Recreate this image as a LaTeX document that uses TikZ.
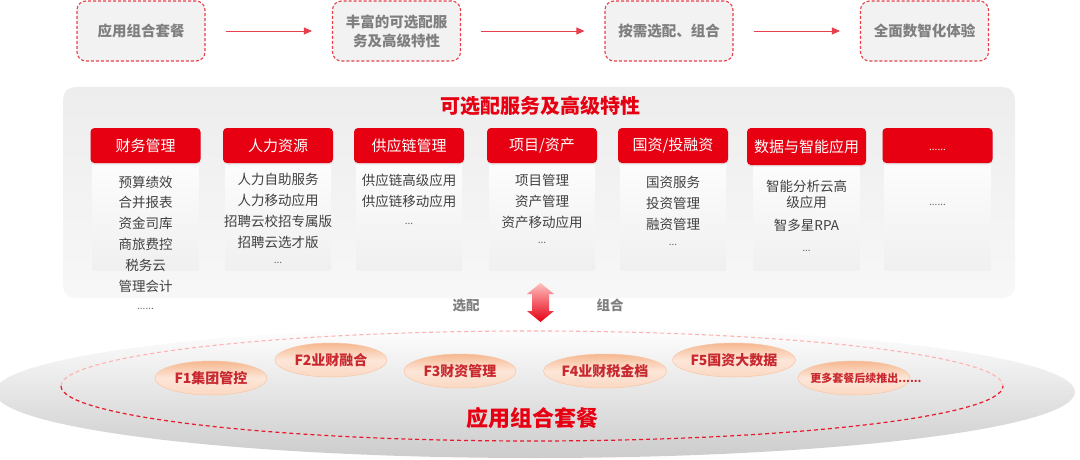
\documentclass[tikz,border=0pt]{standalone}
\usepackage{fontspec}
\setmainfont{Noto Sans CJK SC}
\usetikzlibrary{arrows.meta,shapes.geometric,shadows}
\definecolor{hred}{HTML}{E60012}
\definecolor{dred}{HTML}{E8404A}
\definecolor{tgray}{HTML}{7F7F7F}
\definecolor{igray}{HTML}{404040}
\definecolor{pred}{HTML}{C8282E}
\definecolor{peach}{HTML}{F6B890}
\definecolor{peachl}{HTML}{FDE6D8}
\tikzset{
  topbox/.style={draw=dred, line width=1.1pt, dash pattern=on 3pt off 2pt, fill=gray!10,
    rounded corners=9pt, minimum width=128pt, minimum height=60pt, inner sep=0pt,
    text=tgray, font=\bfseries\fontsize{14.5}{19}\selectfont, align=center},
  flow/.style={draw=dred, line width=0.9pt, -{Triangle[length=8pt,width=7pt]},
    shorten <=20pt, shorten >=20pt},
  header/.style={fill=hred, rounded corners=4pt, minimum width=110pt, minimum height=35pt,
    inner sep=0pt, text=white, font=\fontsize{15}{18}\selectfont,
    drop shadow={opacity=0.18, shadow xshift=0pt, shadow yshift=-1.5pt}},
  card/.style={top color=gray!2, bottom color=gray!12, minimum width=106pt, minimum height=107pt,
    inner sep=0pt, drop shadow={opacity=0.06, shadow xshift=0pt, shadow yshift=-1pt}},
  item/.style={text=igray, font=\fontsize{13.5}{16}\selectfont, inner sep=0pt},
  dots/.style={text=igray!80, font=\fontsize{10}{12}\selectfont, inner sep=0pt},
  pill/.style={ellipse, minimum width=112pt, minimum height=34pt, inner sep=0pt,
    draw=peach!80, line width=0.5pt, top color=peach, bottom color=peach!55!white,
    middle color=peachl, text=pred, font=\bfseries\fontsize{14}{16}\selectfont},
  gtext/.style={text=tgray, font=\bfseries\fontsize{13.5}{16}\selectfont, inner sep=0pt},
}
\begin{document}
\begin{tikzpicture}[x=1pt,y=-1pt]
\useasboundingbox (0,0) rectangle (1080,460);
% top flow
\node[topbox] (b1) at (141,31) {应用组合套餐};
\node[topbox] (b2) at (396.5,31) {丰富的可选配服\\务及高级特性};
\node[topbox] (b3) at (669,31) {按需选配、组合};
\node[topbox] (b4) at (924.5,31) {全面数智化体验};
\draw[flow] (b1) -- (b2);
\draw[flow] (b2) -- (b3);
\draw[flow] (b3) -- (b4);
% panel
\node[top color=gray!14, bottom color=gray!6, rounded corners=12pt, minimum width=952pt,
  minimum height=211pt, inner sep=0pt] (panel) at (539,192.5) {};
\node[text=hred, font=\bfseries\fontsize{20}{24}\selectfont, inner sep=0pt] (ptitle) at (540,106) {可选配服务及高级特性};
% cards
\foreach \x [count=\i] in {145.5,278,409,542,673,806.5,937.5}
  \node[card] (card\i) at (\x,216.5) {};
% headers
\node[header] (h1) at (145.5,145.5) {财务管理};
\node[header] (h2) at (278,145.5) {人力资源};
\node[header] (h3) at (409,145.5) {供应链管理};
\node[header] (h4) at (542,145.5) {项目/资产};
\node[header] (h5) at (673,145.5) {国资/投融资};
\node[header, minimum width=119pt, minimum height=37pt] (h6) at (806.5,146.5) {数据与智能应用};
\node[header] (h7) at (937.5,145.5) {};
\node[text=white, font=\fontsize{10}{12}\selectfont, inner sep=0pt] (h7d) at (937.5,150) {......};
% items
\foreach \t [count=\i] in {预算绩效,合并报表,资金司库,商旅费控,税务云,管理会计}
  \node[item] (a\i) at (145.5,{182+20.8*(\i-1)}) {\t};
\node[dots] (ad) at (145.5,309) {......};
\foreach \t [count=\i] in {人力自助服务,人力移动应用,招聘云校招专属版,招聘云选才版}
  \node[item] (b\i) at (278,{179+21*(\i-1)}) {\t};
\node[dots] (bd) at (278,263) {...};
\foreach \t [count=\i] in {供应链高级应用,供应链移动应用}
  \node[item] (c\i) at (409,{180+21*(\i-1)}) {\t};
\node[dots] (cd) at (409,224) {...};
\foreach \t [count=\i] in {项目管理,资产管理,资产移动应用}
  \node[item] (d\i) at (542,{180+21*(\i-1)}) {\t};
\node[dots] (dd) at (542,243) {...};
\foreach \t [count=\i] in {国资服务,投资管理,融资管理}
  \node[item] (e\i) at (673,{182+21*(\i-1)}) {\t};
\node[dots] (ed) at (673,245) {...};
\node[item] (f1) at (806.5,186) {智能分析云高};
\node[item] (f2) at (806.5,202.5) {级应用};
\node[item] (f3) at (806.5,225) {智多星RPA};
\node[dots] (fd) at (806.5,251) {...};
\node[dots] (gd) at (937.5,205) {......};
% double arrow
\shade[top color=red!25, bottom color=hred]
  (540.5,283) -- (554,294) -- (549,294) -- (549,311) -- (554,311) -- (540.5,322)
  -- (527,311) -- (532,311) -- (532,294) -- (527,294) -- cycle;
\node[gtext] (sel) at (466,306) {选配};
\node[gtext] (comb) at (610,305) {组合};
% bottom ellipse
\shade[top color=white, middle color=gray!16, bottom color=gray!40] (535,392) ellipse [x radius=540, y radius=66];
\draw[draw=red!30, line width=1.1pt, dash pattern=on 4pt off 3pt]
  (61,386) arc[start angle=180, end angle=360, x radius=471, y radius=55];
\draw[draw=hred!90, line width=1.2pt, dash pattern=on 4pt off 3pt]
  (61,386) arc[start angle=180, end angle=0, x radius=471, y radius=55];
% pills
\node[pill] (p1) at (211,378) {F1集团管控};
\node[pill] (p2) at (331,360) {F2业财融合};
\node[pill] (p3) at (460,371) {F3财资管理};
\node[pill] (p4) at (605,371) {F4业财税金档};
\node[pill] (p5) at (734,360) {F5国资大数据};
\node[pill] (p6) at (854,378) {};
\node[text=pred, font=\bfseries\fontsize{11}{13}\selectfont, inner sep=0pt] (p6t) at (866,378) {更多套餐后续推出......};
\node[text=hred, font=\bfseries\fontsize{22}{26}\selectfont, inner sep=0pt] (btitle) at (532,418) {应用组合套餐};
\end{tikzpicture}
\end{document}
